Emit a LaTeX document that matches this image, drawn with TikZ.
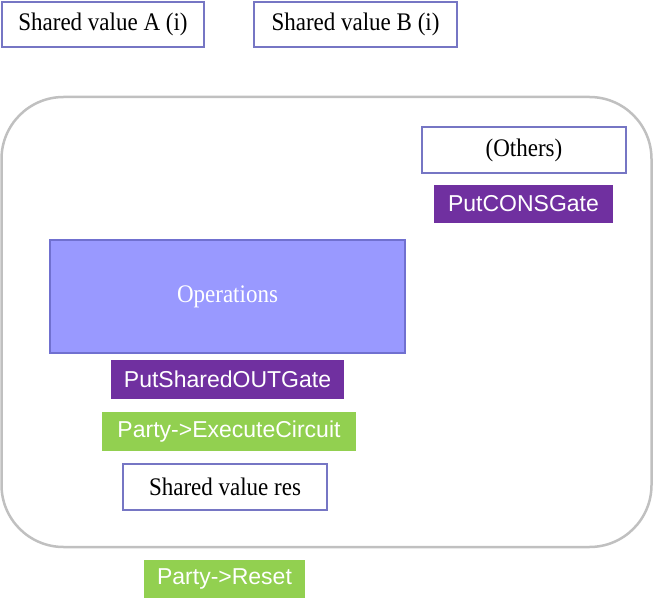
\documentclass[tikz,border=0pt]{standalone}
\usepackage{graphicx}
\usepackage{fontspec}
\setmainfont{Liberation Serif}
\newfontfamily\arialfont{Liberation Sans}
\newcommand{\talltext}[1]{\scalebox{1}[1.1]{#1}}
\definecolor{boxborder}{RGB}{118,118,196}
\definecolor{opfill}{RGB}{153,153,255}
\definecolor{opborder}{RGB}{112,112,208}
\definecolor{purplefill}{RGB}{112,48,160}
\definecolor{greenfill}{RGB}{146,208,80}
\definecolor{framegray}{RGB}{192,192,192}
\tikzset{
  valbox/.style={draw=boxborder, line width=2pt, fill=white, inner sep=0pt, font=\fontsize{23}{27}\selectfont},
  gatebox/.style={fill=purplefill, text=white, inner sep=0pt, font=\arialfont\fontsize{23}{27}\selectfont},
  partybox/.style={fill=greenfill, text=white, inner sep=0pt, font=\arialfont\fontsize{23}{27}\selectfont},
  opbox/.style={draw=opborder, line width=1.5pt, fill=opfill, text=white, inner sep=0pt, font=\fontsize{23}{27}\selectfont},
  framebox/.style={draw=framegray, line width=2.5pt, rounded corners=62pt, inner sep=0pt}
}
\begin{document}
\begin{tikzpicture}[x=1pt,y=-1pt]
\useasboundingbox (0,0) rectangle (653,607);
\node[framebox, minimum width=650pt, minimum height=450pt] (frame) at (326.5,322) {};
\node[valbox, minimum width=202pt, minimum height=45pt] (shA) at (103,24.5) {\talltext{Shared value A (i)}};
\node[valbox, minimum width=203pt, minimum height=45pt] (shB) at (355.5,24.5) {\talltext{Shared value B (i)}};
\node[valbox, minimum width=204pt, minimum height=46pt] (others) at (524,150) {\talltext{(Others)}};
\node[gatebox, minimum width=179pt, minimum height=38pt] (cons) at (523.5,204) {PutCONSGate};
\node[opbox, minimum width=355pt, minimum height=113pt] (ops) at (227.5,296.5) {\talltext{Operations}};
\node[gatebox, minimum width=233pt, minimum height=39pt] (sout) at (227.5,379.5) {PutSharedOUTGate};
\node[partybox, minimum width=254pt, minimum height=39pt] (exec) at (229,431.5) {Party->ExecuteCircuit\hspace{5pt}};
\node[valbox, minimum width=204pt, minimum height=46pt] (res) at (225,487) {\talltext{Shared value res}};
\node[partybox, minimum width=161pt, minimum height=38pt] (reset) at (224.5,579) {Party->Reset};
\end{tikzpicture}
\end{document}
